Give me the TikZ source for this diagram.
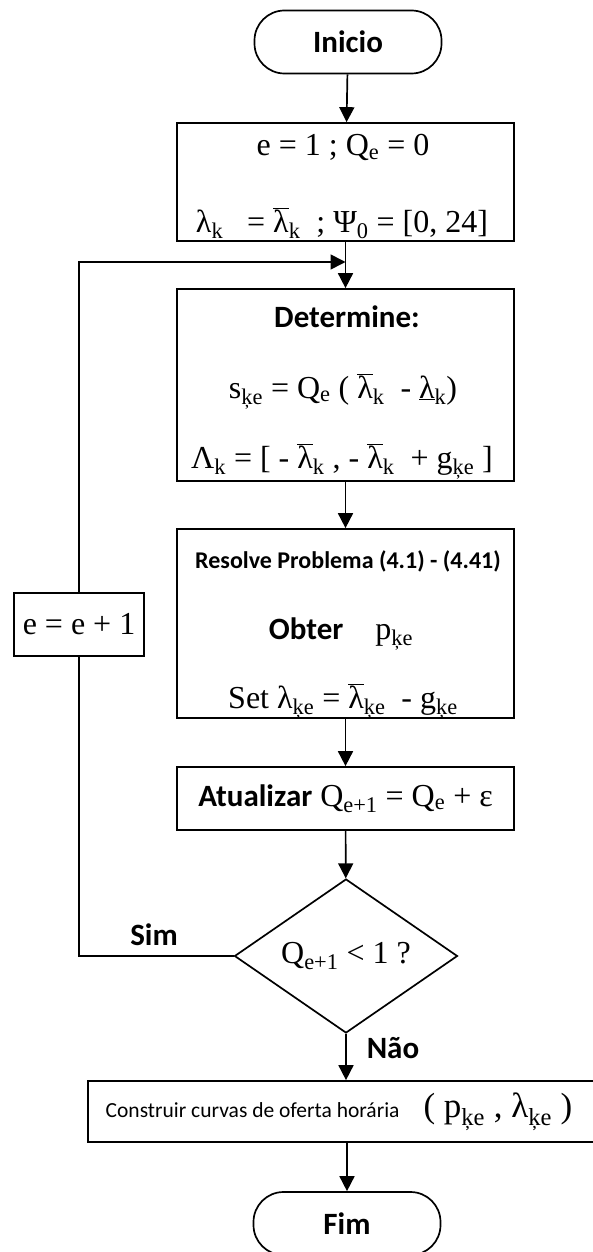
\documentclass[tikz,border=0pt]{standalone}
\usepackage{fontspec}
\setmainfont{Liberation Serif}
\newfontfamily\calibri{Carlito}
\usetikzlibrary{arrows.meta, shapes.geometric, positioning}
\newcommand{\lbar}{\ensuremath{\overline{\mbox{λ}}}}
\newcommand{\sub}[1]{\textsubscript{#1}}

\begin{document}
\begin{tikzpicture}[x=1pt, y=-1pt, line width=1.7pt,
   caixa/.style={draw, rectangle, minimum width=337pt, inner sep=0pt,
      font=\fontsize{32}{36}\selectfont},
   terminal/.style={draw, rounded corners=30pt, minimum width=187pt, minimum height=63pt,
      font=\calibri\bfseries\fontsize{31}{36}\selectfont},
   linha/.style={anchor=base, inner sep=0pt, font=\fontsize{32}{36}\selectfont},
   rotulo/.style={inner sep=0pt, font=\calibri\bfseries\fontsize{31}{36}\selectfont},
   seta/.style={-{Triangle[length=15pt, width=15pt]}}]
   \useasboundingbox (0,0) rectangle (593,1252);
   % Terminals
   \node[terminal] (inicio) at (348,42) {Inicio};
   \node[terminal] (fim) at (347,1223.5) {Fim};
   % Initialisation
   \node[caixa, minimum height=118pt] (passo) at (345.5,182) {};
   \node[linha] (passo1) at (343,156) {e = 1 ; Q\sub{e} = 0};
   \node[linha] (passo2) at (342,232) {λ\sub{k} \ \ = \lbar\sub{k} \ ; Ψ\sub{0} = [0, 24]};
   % Determine block
   \node[caixa, minimum height=192pt] (determ) at (345.5,385) {};
   \node[rotulo, anchor=base] (determ1) at (347,327) {Determine:};
   \node[linha] (determ2) at (343,398) {s\sub{ķe} = Q\sub{e} ( \lbar\sub{k} \ - \underline{λ}\sub{k})};
   \node[linha] (determ3) at (342,468) {Λ\sub{k} = [ - \lbar\sub{k} , - \lbar\sub{k} \ + g\sub{ķe} ]};
   % Resolve block
   \node[caixa, minimum height=189pt] (resolve) at (345.5,623.5) {};
   \node[linha, font=\calibri\bfseries\fontsize{24}{28}\selectfont] (resolve1) at (348,568) {Resolve Problema (4.1) - (4.41)};
   \node[linha] (resolve2) at (341,639) {{\calibri\bfseries\fontsize{31}{36}\selectfont Obter}\quad p\sub{ķe}};
   \node[linha] (resolve3) at (343,708) {Set λ\sub{ķe} = \lbar\sub{ķe} \ - g\sub{ķe}};
   % Update
   \node[caixa, minimum height=63pt] (atual) at (345.5,798.5)
      {{\calibri\bfseries\fontsize{31}{36}\selectfont Atualizar} Q\sub{e+1} = Q\sub{e} + ε};
   % Decision
   \node[draw, diamond, aspect=1.45, minimum width=223pt, minimum height=154pt, inner sep=0pt,
      font=\fontsize{32}{36}\selectfont] (teste) at (346,956) {Q\sub{e+1} < 1 ?};
   % Counter
   \node[caixa, minimum width=130pt, minimum height=63pt] (incr) at (79,624.5) {e = e + 1};
   % Final block
   \node[caixa, minimum width=516pt, minimum height=61pt] (curvas) at (346,1111.5)
      {{\calibri\fontsize{21.5}{26}\selectfont Construir curvas de oferta horária}\hspace{24pt}%
       {\fontsize{35}{38}\selectfont ( p\sub{ķe} , λ\sub{ķe} )}\hspace*{14pt}};
   % Main flow
   \draw[seta] (inicio) -- (passo);
   \draw[seta] (passo) -- (determ);
   \draw[seta] (determ) -- (resolve);
   \draw[seta] (resolve) -- (atual);
   \draw[seta] (atual) -- (teste);
   \draw[seta] (teste.south) -- (teste.south |- curvas.north);
   \draw[seta] (curvas.south -| fim.north) -- (fim.north);
   % Loop back
   \coordinate (junta) at (345.5,262);
   \draw (teste.west) -- (teste.west -| incr.south) -- (incr.south);
   \draw[seta] (incr.north) |- (junta);
   \node[rotulo] (sim) at (154,935) {Sim};
   \node[rotulo] (nao) at (393,1048) {Não};
\end{tikzpicture}
\end{document}
